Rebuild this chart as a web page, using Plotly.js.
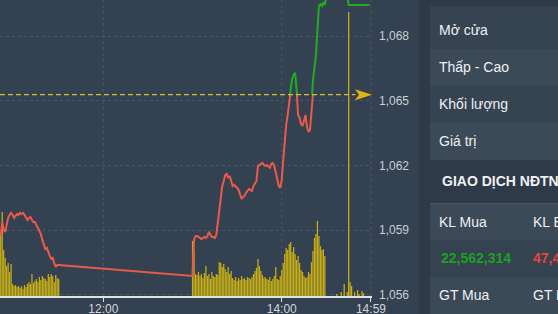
<!DOCTYPE html>
<html><head><meta charset="utf-8">
<script src="https://cdn.plot.ly/plotly-3.0.1.min.js"></script>
<style>
html,body{margin:0;padding:0;background:#344150;width:558px;height:314px;overflow:hidden;}
#chart{position:absolute;left:0;top:0;width:558px;height:314px;}
#panel{position:absolute;left:419px;top:0;width:139px;height:314px;background:#2e3a47;overflow:hidden;font-family:'Liberation Sans',Arial,sans-serif;font-size:14px;color:#eef1f4;}
.row{position:absolute;left:11px;width:128px;}
.lbl{position:absolute;white-space:nowrap;}
</style></head><body>
<div id="chart"></div>
<div id="panel"></div>
<script>
// ---------- DATA ----------
const amStart = '10:51';
const amPrice = [1058.73,1059.38,1059.01,1058.92,1059.24,1059.57,1059.71,1059.80,1059.71,1059.57,
  1059.66,1059.75,1059.71,1059.80,1059.75,1059.80,1059.71,1059.57,1059.48,1059.57,
  1059.61,1059.48,1059.38,1059.38,1059.20,1059.10,1058.97,1058.83,1058.55,1058.27,
  1058.13,1058.18,1057.95,1057.81,1057.67,1057.71,1057.48,1057.30,1057.39,1057.39];
const amVol = [63,84,46,38,30,33,24,32,12,10,11,9,10,8,10,7,11,9,12,14,
  12,22,13,15,17,14,19,16,20,18,17,15,22,19,22,20,14,21,18,17];
const pmStart = '13:00';
const pmPrice = [1056.88,1058.55,1058.73,1058.73,1058.69,1058.64,1058.59,1058.64,1058.69,1058.64,
  1058.73,1058.92,1058.83,1058.69,1058.69,1058.64,1058.78,1059.38,1060.03,1060.49,
  1061.05,1061.28,1061.56,1061.61,1061.42,1061.51,1061.24,1061.05,1061.10,1061.05,
  1060.96,1060.87,1060.68,1060.45,1060.54,1060.59,1060.73,1060.82,1060.91,1060.87,
  1060.82,1061.05,1061.19,1061.28,1061.98,1062.02,1062.07,1062.12,1062.02,1061.98,
  1062.02,1061.93,1061.89,1062.07,1062.12,1061.98,1061.61,1061.24,1061.05,1060.96,
  1061.33,1062.26,1063.18,1063.88,1064.34,1065.04,1065.50,1066.01,1066.19,1066.29,
  1065.50,1064.34,1064.20,1063.92,1063.83,1064.11,1064.34,1063.78,1063.55,1063.65,
  1064.80,1065.96,1066.52,1067.12,1068.28,1069.39,1069.48,1069.39,1069.53,1069.44,
  1069.85];
const pmVol = [55,46,22,21,24,20,22,18,23,30,20,22,17,24,20,19,22,21,34,33,
  29,32,27,24,29,22,25,18,16,19,15,18,16,20,17,18,16,19,18,17,
  19,22,25,28,37,30,25,21,18,19,17,16,19,15,17,20,29,17,16,20,
  26,33,42,48,46,52,54,44,49,42,36,40,33,26,24,20,18,19,24,22,
  34,45,58,62,75,60,50,46,47,40];
const closeTimes = ['14:44','14:45','14:59'];
const closePrice = [1069.85,1069.44,1069.44];
const lateVolTimes = ['14:37','14:40','14:42','14:44','14:45','14:46','14:47','14:49','14:51','14:52','14:54','14:55'];
const lateVol = [2,4,12,4,284,14,10,4,6,2,5,3];
const refPrice = 1065.28;
const priceTicks = [1056,1059,1062,1065,1068];
const priceTickText = ['1,056','1,059','1,062','1,065','1,068'];
const timeTicks = ['12:00','14:00','15:00'];
const timeTickText = ['12:00','14:00','14:59'];
const panelLabels = ['Mở cửa','Thấp - Cao','Khối lượng','Giá trị'];
const foreignTitle = 'GIAO DỊCH NĐTN';
const foreignHead = ['KL Mua','KL Bán'];
const foreignVals = ['22,562,314','47,4'];
const foreignFoot = ['GT Mua','GT Bán'];

// ---------- helpers ----------
function toMin(s){const p=s.split(':').map(Number);return p[0]*60+p[1];}
function seq(start,n){const t0=toMin(start);const a=[];for(let i=0;i<n;i++)a.push(t0+i);return a;}

const priceX = seq(amStart,amPrice.length).concat(seq(pmStart,pmPrice.length)).concat(closeTimes.map(toMin));
const priceY = amPrice.concat(pmPrice).concat(closePrice);
const volX = seq(amStart,amVol.length).concat(seq(pmStart,pmVol.length)).concat(lateVolTimes.map(toMin));
const volY = amVol.concat(pmVol).concat(lateVol);

const yBottom = 1055.952, yTop = 1069.668;
const f = (refPrice - yBottom)/(yTop - yBottom);

const traces = [
  {type:'bar', x:volX, y:volY, xaxis:'x', yaxis:'y2', marker:{color:'rgb(198,174,22)', line:{width:0}}, hoverinfo:'skip'},
  {type:'scatter', mode:'lines', x:priceX, y:priceY, xaxis:'x', yaxis:'y4', line:{color:'#ec5a4a', width:2}, hoverinfo:'skip'},
  {type:'scatter', mode:'lines', x:priceX, y:priceY, xaxis:'x', yaxis:'y3', line:{color:'#1fae1f', width:2}, hoverinfo:'skip'}
];

const gridStyle = {color:'#4a5663', width:1, dash:'3px,3px'};
const shapes = timeTicks.map(t => ({type:'line', xref:'x', yref:'paper', x0:toMin(t), x1:toMin(t), y0:0, y1:1, line:gridStyle, layer:'below'}));
shapes.push({type:'line', xref:'paper', yref:'y', x0:0, x1:0.955, y0:refPrice, y1:refPrice, line:{color:'#d8bc3a', width:1.3, dash:'5px,3px'}});
shapes.push({type:'path', xref:'paper', yref:'y', xsizemode:'pixel', ysizemode:'pixel', xanchor:1, yanchor:refPrice,
  path:'M-17,5.5 L0,0 L-17,-5.5 L-13,0 Z', fillcolor:'#e2b50c', line:{width:0}});

const layout = {
  width:558, height:314, margin:{l:0,r:186,t:0,b:18,pad:0},
  paper_bgcolor:'#344150', plot_bgcolor:'rgba(0,0,0,0)', showlegend:false,
  font:{family:'Liberation Sans, Arial, sans-serif', size:12, color:'#cfd4d9'},
  bargap:0.15,
  xaxis:{range:[650.52,900.7], tickvals:timeTicks.map(toMin), ticktext:timeTickText, showgrid:false, zeroline:false,
    showline:true, linecolor:'#dfe3e6', linewidth:1.5, ticks:'outside', ticklen:4, tickcolor:'#dfe3e6', tickwidth:1,
    ticklabelstandoff:-3, tickfont:{size:12, color:'#d2d6da'}, anchor:'y', fixedrange:true},
  yaxis:{range:[yBottom,yTop], domain:[0,1], side:'right', tickvals:priceTicks, ticktext:priceTickText,
    showgrid:true, gridcolor:'#4a5663', griddash:'3px,3px', gridwidth:1, zeroline:false, showline:false, ticks:'',
    ticklabelstandoff:6, tickfont:{size:12, color:'#c9ced3'}, anchor:'x'},
  yaxis2:{overlaying:'y', range:[0,296], visible:false, anchor:'x'},
  yaxis3:{domain:[f,1], range:[refPrice,yTop], visible:false, anchor:'x'},
  yaxis4:{domain:[0,f], range:[yBottom,refPrice], visible:false, anchor:'x'},
  shapes:shapes
};

Plotly.newPlot('chart', traces, layout, {staticPlot:true, displayModeBar:false});

// ---------- side panel ----------
const panel = document.getElementById('panel');
const rowBoxes = [{top:6,h:43,bg:'#364351',pad:3},{top:49,h:37,bg:'#3c4957',pad:0},{top:86,h:37,bg:'#364351',pad:0},{top:123,h:37,bg:'#3c4957',pad:0}];
function addRow(top,h,bg){const d=document.createElement('div');d.className='row';d.style.top=top+'px';d.style.height=h+'px';d.style.background=bg;panel.appendChild(d);return d;}
function addText(parent,txt,left,h,style,pad){const s=document.createElement('div');s.className='lbl';s.textContent=txt;s.style.left=left+'px';s.style.top=(pad||0)+'px';s.style.lineHeight=h+'px';if(style)Object.assign(s.style,style);parent.appendChild(s);}
panelLabels.forEach((t,i)=>{const b=rowBoxes[i];const r=addRow(b.top,b.h,b.bg);addText(r,t,9,b.h-2*b.pad,null,b.pad*2);});
const hdr=addRow(160,43,'#2e3a47');addText(hdr,foreignTitle,12,43,{fontWeight:'bold'});
const sep=addRow(203,1,'#4a5767');
const r5=addRow(204,36,'#3c4957');addText(r5,foreignHead[0],9,36);addText(r5,foreignHead[1],103,36);
const r6=addRow(240,37,'#354250');addText(r6,foreignVals[0],11,37,{fontWeight:'bold',color:'#1e9e24'});addText(r6,foreignVals[1],103,37,{fontWeight:'bold',color:'#e0483e'});
const r7=addRow(277,37,'#3c4957');addText(r7,foreignFoot[0],9,37);addText(r7,foreignFoot[1],103,37);
</script></body></html>
